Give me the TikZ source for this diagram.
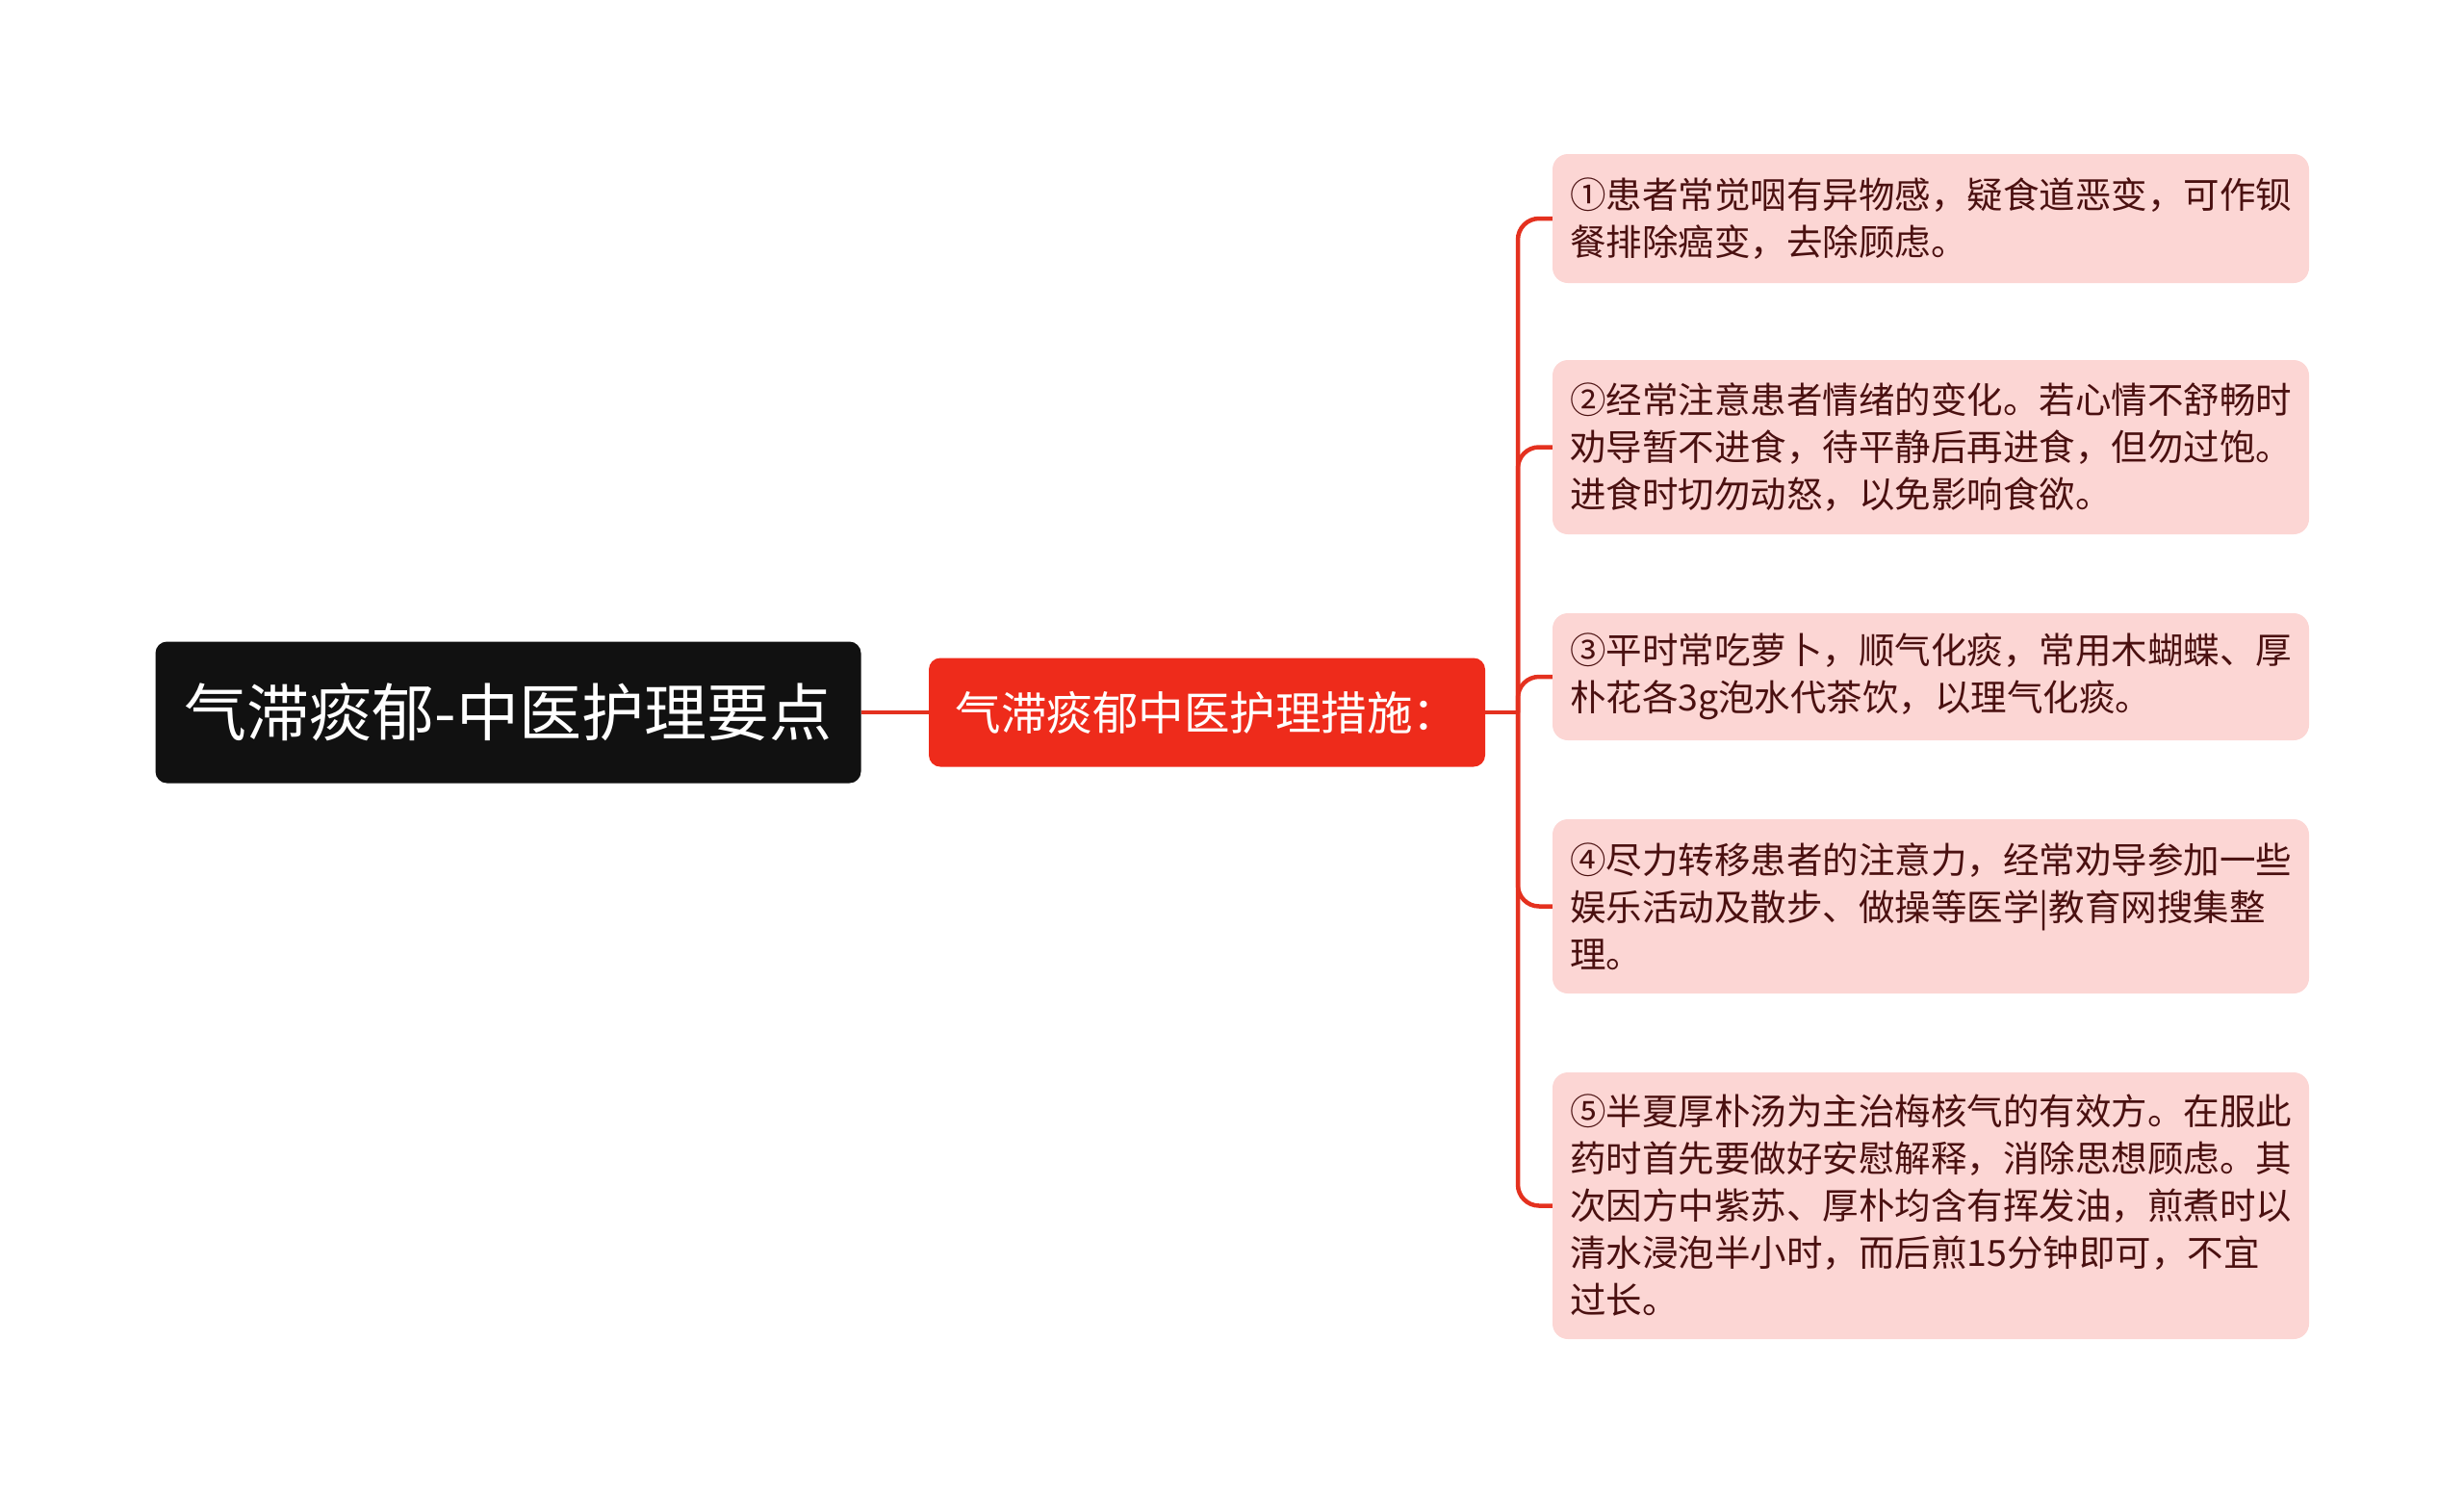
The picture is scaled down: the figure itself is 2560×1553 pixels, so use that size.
\documentclass[tikz,border=0pt]{standalone}
\usepackage{fontspec}
\setmainfont{Noto Sans CJK SC}
\usepackage{xcolor}
\usepackage{tikz}
\definecolor{rootbg}{HTML}{111111}
\definecolor{subbg}{HTML}{EE2B1B}
\definecolor{leafbg}{HTML}{FCD6D4}
\definecolor{leaftxt}{HTML}{4A1010}
\definecolor{linkred}{HTML}{E4311F}

\begin{document}
\begin{tikzpicture}[x=1pt,y=-1pt,
	rootbox/.style={fill=rootbg,text=white,rounded corners=12pt,minimum width=733pt,minimum height=147pt,font=\fontsize{65}{76}\selectfont},
	subbox/.style={fill=subbg,text=white,rounded corners=12pt,minimum width=578pt,minimum height=113pt,font=\fontsize{47.5}{56}\selectfont},
	leafbox/.style={fill=leafbg,text=leaftxt,rounded corners=16pt,text width=750pt,inner xsep=18pt,align=left,font=\fontsize{37.5}{49}\selectfont},
	link/.style={draw=linkred,line width=4.5pt,rounded corners=22pt}]
			\useasboundingbox (0,0) rectangle (2560,1553);
			\node[rootbox] (root) at (528,740) {气滞痰郁-中医护理要点};
			\node[subbox] (sub) at (1254,740) {气滞痰郁中医护理措施：};
			\coordinate (fork) at (1577,740);
			
			\node[leafbox,minimum height=134pt] (leaf1) at (2006,227) {①患者常觉咽有异物感，疑食道恶变，可作钡\\餐排除癌变，去除顾虑。};
			\node[leafbox,minimum height=181pt] (leaf2) at (2006,464.5) {②经常注意患者情绪的变化。若心情不舒畅时\\劝导暂不进食，待平静后再进食，但勿过饱。\\进食时切勿动怒，以免影响食欲。};
			\node[leafbox,minimum height=132pt] (leaf3) at (2006,703) {③平时常吃萝卜，顺气化痰，常用木蝴蝶、厚\\朴花各3g泡水代茶饮，以理气化痰。};
			\node[leafbox,minimum height=181pt] (leaf4) at (2006,941.5) {④尽力转移患者的注意力，经常劝导参加一些\\娱乐活动及散步、做操等医学|教育网搜集整\\理。};
			\node[leafbox,minimum height=277pt] (leaf5) at (2006,1252.5) {⑤半夏厚朴汤为主治梅核气的有效方。在服此\\药时首先要做好安慰解释，消除思想顾虑。其\\次因方中紫苏、厚朴均含有挥发油，煎煮时以\\清水浸泡半小时，而后煎15分钟即可，不宜\\过长。};
			
			\draw[link] (root.east) -- (sub.west);
			\draw[link] (sub.east) -- (fork);
			\foreach \i in {1,...,5}{
				\draw[link] (fork) |- (leaf\i.west);
			}
		\end{tikzpicture}
\end{document}
